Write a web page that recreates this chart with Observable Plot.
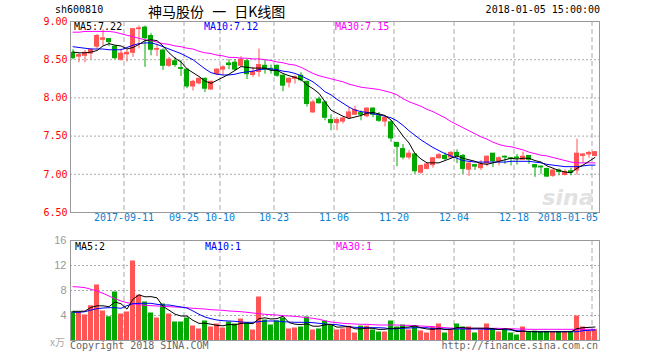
<!DOCTYPE html>
<html>
<head>
<meta charset="utf-8">
<script src="https://cdn.jsdelivr.net/npm/d3@7"></script>
<script src="https://cdn.jsdelivr.net/npm/@observablehq/plot@0.6"></script>
<style>
  html, body { margin: 0; padding: 0; background: #fff; }
  #wrap { position: relative; width: 660px; height: 360px; overflow: hidden; background: #fff; }
  .lbl { position: absolute; white-space: nowrap; line-height: 11px; height: 11px;
         font-family: "DejaVu Sans Mono", monospace; font-size: 10px; }
  .pane { position: absolute; left: 0; }
</style>
</head>
<body>
<div id="wrap">
  <div id="topPane" class="pane" style="top:0"></div>
  <div id="volPane" class="pane" style="top:232px"></div>
</div>
<script>
// ---------------- data ----------------
const openP  = [8.59,8.54,8.55,8.58,8.67,8.76,8.77,8.67,8.50,8.57,8.59,8.90,8.92,8.81,8.63,8.62,8.42,8.48,8.39,8.37,
                8.15,8.19,8.25,8.11,8.31,8.37,8.45,8.46,8.42,8.48,8.30,8.34,8.42,8.38,8.42,8.29,8.20,8.25,8.29,8.21,
                7.81,7.98,7.94,7.71,7.67,7.69,7.74,7.78,7.80,7.76,7.86,7.76,7.69,7.68,7.41,7.33,7.22,7.26,7.02,7.07,
                7.12,7.21,7.24,7.22,7.28,7.24,7.06,7.12,7.08,7.14,7.27,7.17,7.23,7.21,7.22,7.19,7.24,7.12,7.10,7.07,
                6.98,7.05,6.99,7.04,7.05,7.24,7.26,7.24];
const highP  = [8.63,8.58,8.62,8.64,8.83,8.89,8.77,8.68,8.64,8.63,8.91,8.94,8.94,8.84,8.70,8.64,8.53,8.53,8.49,8.37,
                8.23,8.26,8.26,8.22,8.38,8.42,8.50,8.50,8.54,8.50,8.40,8.64,8.49,8.43,8.43,8.30,8.26,8.29,8.33,8.22,
                7.97,8.01,7.96,7.78,7.74,7.75,7.87,7.89,7.83,7.87,7.87,7.81,7.75,7.70,7.42,7.39,7.31,7.27,7.12,7.15,
                7.22,7.27,7.28,7.30,7.32,7.26,7.15,7.13,7.18,7.24,7.27,7.23,7.24,7.22,7.26,7.29,7.24,7.13,7.11,7.08,
                7.06,7.07,7.06,7.08,7.46,7.27,7.30,7.30];
const lowP   = [8.50,8.46,8.46,8.50,8.64,8.68,8.67,8.50,8.48,8.47,8.53,8.64,8.40,8.55,8.54,8.36,8.40,8.40,8.28,8.12,
                8.09,8.17,8.07,8.10,8.29,8.29,8.37,8.35,8.40,8.24,8.27,8.27,8.31,8.31,8.27,8.08,8.13,8.18,8.21,7.88,
                7.80,7.92,7.70,7.57,7.57,7.66,7.72,7.77,7.70,7.74,7.74,7.68,7.62,7.42,7.10,7.19,7.19,7.00,7.00,7.06,
                7.08,7.20,7.18,7.21,7.14,7.00,6.97,7.05,7.05,7.10,7.09,7.11,7.13,7.11,7.12,7.18,7.13,6.96,7.00,6.96,
                6.96,6.98,6.98,6.98,6.99,7.14,7.21,7.23];
const closeP = [8.52,8.56,8.59,8.63,8.81,8.78,8.73,8.52,8.58,8.59,8.90,8.91,8.78,8.63,8.64,8.42,8.50,8.43,8.38,8.15,
                8.21,8.25,8.12,8.21,8.37,8.40,8.43,8.37,8.50,8.31,8.34,8.43,8.37,8.37,8.29,8.16,8.25,8.27,8.23,7.92,
                7.94,7.93,7.74,7.67,7.71,7.73,7.81,7.84,7.78,7.86,7.78,7.70,7.74,7.47,7.36,7.22,7.27,7.04,7.11,7.13,
                7.21,7.25,7.20,7.28,7.24,7.07,7.14,7.10,7.13,7.23,7.17,7.21,7.22,7.20,7.21,7.23,7.19,7.09,7.09,6.97,
                7.05,7.03,7.03,7.02,7.27,7.26,7.28,7.29];
// volume, in 万 (10k) lots
const volume = [4.60,4.45,4.08,5.55,8.88,4.72,3.80,7.76,4.24,4.56,12.72,7.25,6.16,4.40,3.60,5.84,4.24,2.96,2.96,3.60,
                2.32,1.84,3.12,2.16,2.64,2.00,2.96,2.64,3.44,2.80,1.68,6.96,3.28,2.48,3.12,3.60,1.84,2.00,2.16,3.76,
                1.68,1.84,3.12,2.37,1.68,1.84,2.27,1.20,2.30,2.30,1.68,1.36,1.36,3.12,2.16,2.48,1.68,2.32,1.52,1.20,
                2.16,2.64,1.20,1.68,2.64,2.16,2.16,1.20,1.68,2.64,1.84,1.36,1.84,1.20,0.88,2.16,1.40,1.50,1.35,1.45,
                1.30,1.40,1.35,1.45,3.92,2.16,1.52,1.74];
// moving-average lines as drawn on the reference
const ma5  = [8.60,8.59,8.59,8.60,8.62,8.68,8.71,8.69,8.68,8.64,8.66,8.70,8.75,8.76,8.75,8.68,8.59,8.52,8.47,8.38,
              8.33,8.28,8.22,8.19,8.23,8.27,8.31,8.36,8.41,8.40,8.39,8.39,8.39,8.36,8.36,8.32,8.29,8.27,8.24,8.17,
              8.12,8.06,7.95,7.84,7.80,7.76,7.73,7.75,7.77,7.80,7.81,7.79,7.77,7.71,7.61,7.50,7.41,7.27,7.20,7.15,
              7.15,7.15,7.18,7.21,7.24,7.21,7.19,7.17,7.14,7.13,7.15,7.17,7.19,7.21,7.20,7.21,7.21,7.18,7.16,7.11,
              7.08,7.05,7.03,7.02,7.08,7.12,7.17,7.22];
const ma10 = [8.67,8.66,8.65,8.64,8.64,8.64,8.63,8.63,8.63,8.66,8.69,8.71,8.72,8.72,8.70,8.67,8.64,8.61,8.58,8.54,
              8.50,8.44,8.38,8.33,8.31,8.30,8.30,8.31,8.33,8.34,8.35,8.37,8.38,8.38,8.37,8.35,8.34,8.32,8.29,8.25,
              8.21,8.15,8.08,8.04,7.98,7.93,7.88,7.84,7.82,7.81,7.79,7.78,7.76,7.74,7.70,7.64,7.57,7.51,7.45,7.40,
              7.35,7.31,7.27,7.24,7.21,7.18,7.17,7.16,7.16,7.16,7.16,7.16,7.16,7.17,7.17,7.17,7.17,7.16,7.15,7.13,
              7.12,7.11,7.10,7.10,7.10,7.11,7.12,7.12];
const ma30 = [8.86,8.86,8.87,8.87,8.87,8.87,8.87,8.86,8.84,8.82,8.80,8.78,8.76,8.75,8.73,8.71,8.70,8.68,8.67,8.65,
              8.64,8.61,8.59,8.58,8.56,8.55,8.53,8.53,8.52,8.52,8.51,8.51,8.50,8.49,8.47,8.46,8.44,8.43,8.40,8.36,
              8.32,8.29,8.27,8.25,8.23,8.21,8.18,8.16,8.14,8.13,8.12,8.11,8.09,8.07,8.04,7.99,7.95,7.92,7.89,7.85,
              7.82,7.78,7.74,7.69,7.65,7.61,7.57,7.53,7.49,7.46,7.42,7.39,7.37,7.36,7.34,7.32,7.29,7.27,7.25,7.24,
              7.22,7.20,7.18,7.16,7.15,7.15,7.15,7.15];
const vma5  = [4.67,4.67,4.70,5.30,5.55,5.55,5.41,6.15,5.88,5.02,6.62,7.31,6.99,7.02,6.83,5.46,4.85,4.21,3.92,3.92,
               3.22,2.74,2.77,2.61,2.42,2.35,2.58,2.48,2.74,2.77,2.70,3.50,3.63,3.44,3.50,3.89,2.86,2.61,2.54,2.67,
               2.29,2.29,2.51,2.55,2.14,2.17,2.26,1.87,1.86,1.98,1.95,1.77,1.80,1.96,1.94,2.10,2.16,2.35,2.03,1.84,
               1.78,1.97,1.74,1.78,2.06,2.06,1.97,1.97,1.97,1.97,1.90,1.74,1.87,1.78,1.42,1.49,1.45,1.40,1.38,1.40,
               1.40,1.38,1.39,1.39,1.90,2.05,2.10,2.16];
const vma10 = [4.51,4.51,4.61,4.88,5.09,5.20,5.25,5.25,5.15,5.57,5.89,5.95,5.95,5.95,5.79,5.68,5.68,5.52,5.36,5.20,
               4.72,4.19,3.76,3.49,3.28,3.17,3.12,3.07,2.96,2.91,2.91,3.01,3.12,3.12,3.12,3.01,2.96,2.91,2.91,2.91,
               2.85,2.75,2.64,2.59,2.53,2.37,2.21,2.11,2.05,2.05,2.05,2.05,2.00,1.84,1.89,1.95,2.00,2.05,2.05,2.05,
               1.89,1.84,1.84,1.84,1.84,1.84,1.84,1.84,1.84,1.79,1.79,1.79,1.73,1.68,1.57,1.52,1.41,1.41,1.41,1.41,
               1.41,1.41,1.41,1.41,1.41,1.57,1.63,1.68];
const vma30 = [8.61,8.56,8.45,8.19,7.92,7.55,7.12,6.69,6.32,6.05,5.89,5.73,5.63,5.57,5.52,5.47,5.41,5.36,5.31,5.25,
               5.15,5.09,5.04,4.93,4.88,4.83,4.72,4.67,4.61,4.51,4.40,4.29,4.19,4.13,4.08,3.97,3.92,3.87,3.76,3.65,
               3.55,3.39,3.17,2.96,2.85,2.75,2.69,2.64,2.59,2.59,2.53,2.48,2.48,2.48,2.48,2.43,2.43,2.37,2.32,2.27,
               2.21,2.11,2.05,2.00,1.95,1.95,1.95,1.95,1.95,1.95,1.95,1.95,1.89,1.89,1.84,1.84,1.79,1.79,1.79,1.79,
               1.79,1.79,1.79,1.79,1.79,1.79,1.79,1.79];
const dateLabels = ["2017-09-11","09-25","10-10","10-23","11-06","11-20","12-04","12-18","2018-01-05"];
const dateIndex  = [9,19,25,34,44,54,64,74,87];
const priceTicks = [9.00,8.50,8.00,7.50,7.00,6.50];
const volTicks   = [16,12,8,4];
const maPriceLabels = [["MA5:7.22","#000"],["MA10:7.12","#0000ff"],["MA30:7.15","#ff00ff"]];
const maVolLabels   = [["MA5:2","#000"],["MA10:1","#0000ff"],["MA30:1","#ff00ff"]];

// ---------------- drawing ----------------
const RED = "#ff5555", GREEN = "#00a800", GRID = "#aaaaaa";
const HW = 2.5 / 6;                       // half body width in index units
const xDomain = [-HW, (599 - 72.5) / 6];
const rows = openP.map((o, i) => ({i, o, h: highP[i], l: lowP[i], c: closeP[i], v: volume[i]}));
const ups = rows.filter(d => d.c >= d.o), downs = rows.filter(d => d.c < d.o);
const grid = dateIndex.map(d => d - 0.5);
const mono = "DejaVu Sans Mono, monospace";

const topChart = Plot.plot({
  width: 660, height: 232,
  marginLeft: 70, marginRight: 61, marginTop: 21, marginBottom: 20,
  x: {domain: xDomain, axis: null},
  y: {domain: [6.5, 9], axis: null},
  style: {fontFamily: mono, fontSize: "10px", background: "transparent", overflow: "visible"},
  marks: [
    Plot.ruleY([8.5, 8.0, 7.5, 7.0], {stroke: GRID, strokeDasharray: "2,2"}),
    Plot.ruleX(grid, {stroke: GRID, strokeDasharray: "5,3"}),
    Plot.text(["sina"], {frameAnchor: "bottom-right", dx: -6, dy: -8, fill: "#e2e2e2",
                         fontSize: 22, fontWeight: "bold", fontStyle: "italic", fontFamily: "DejaVu Sans"}),
    Plot.ruleX(ups,   {x: "i", y1: "l", y2: "h", stroke: RED}),
    Plot.ruleX(downs, {x: "i", y1: "l", y2: "h", stroke: GREEN}),
    Plot.rect(ups,   {x1: d => d.i - HW, x2: d => d.i + HW, y1: "o", y2: "c", fill: RED,   insetTop: -0.5, insetBottom: -0.5}),
    Plot.rect(downs, {x1: d => d.i - HW, x2: d => d.i + HW, y1: "o", y2: "c", fill: GREEN, insetTop: -0.5, insetBottom: -0.5}),
    Plot.lineY(ma30, {stroke: "#ff00ff", strokeWidth: 1}),
    Plot.lineY(ma10, {stroke: "#0000ff", strokeWidth: 1}),
    Plot.lineY(ma5,  {stroke: "#000000", strokeWidth: 1}),
    Plot.text(priceTicks, {x: xDomain[0], y: d => d, text: d => d.toFixed(2), textAnchor: "end", dx: -3, fill: "#ff0000"}),
    Plot.text(dateLabels.slice(0, -1), {x: (d, k) => grid[k], frameAnchor: "bottom", dy: 8, fill: "#0a7fd0"}),
    Plot.text(dateLabels.slice(-1), {x: grid.slice(-1), frameAnchor: "bottom", dy: 8, dx: 6, textAnchor: "end", fill: "#0a7fd0"}),
    Plot.frame({stroke: "#999999"})
  ]
});
document.getElementById("topPane").appendChild(topChart);

const volChart = Plot.plot({
  width: 660, height: 128,
  marginLeft: 70, marginRight: 61, marginTop: 8, marginBottom: 20,
  x: {domain: xDomain, axis: null},
  y: {domain: [0, 16], axis: null},
  style: {fontFamily: mono, fontSize: "10px", background: "transparent", overflow: "visible"},
  marks: [
    Plot.ruleY([12, 8, 4], {stroke: GRID, strokeDasharray: "2,2"}),
    Plot.ruleX(grid, {stroke: GRID, strokeDasharray: "5,3"}),
    Plot.rect(ups,   {x1: d => d.i - HW, x2: d => d.i + HW, y1: 0, y2: "v", fill: RED}),
    Plot.rect(downs, {x1: d => d.i - HW, x2: d => d.i + HW, y1: 0, y2: "v", fill: GREEN}),
    Plot.lineY(vma30, {stroke: "#ff00ff", strokeWidth: 1}),
    Plot.lineY(vma10, {stroke: "#0000ff", strokeWidth: 1}),
    Plot.lineY(vma5,  {stroke: "#000000", strokeWidth: 1}),
    Plot.text(volTicks, {x: xDomain[0], y: d => d, text: d => String(d), textAnchor: "end", dx: -4,
                         fill: "#999999", fontFamily: "Liberation Sans, Arial, sans-serif", fontSize: 11}),
    Plot.frame({stroke: "#999999"})
  ]
});
document.getElementById("volPane").appendChild(volChart);

// ---------------- header, legends and footer text ----------------
const wrap = document.getElementById("wrap");
function label(text, opts) {
  const s = document.createElement("div");
  s.className = "lbl";
  s.textContent = text;
  Object.assign(s.style, opts);
  wrap.appendChild(s);
  return s;
}
label("sh600810", {left: "55px", top: "4px", color: "#000"});
label("神马股份 一 日K线图", {left: "148px", top: "4px", height: "15px", lineHeight: "15px", wordSpacing: "5px",
      fontFamily: "'Noto Sans CJK SC', sans-serif", fontSize: "14px", color: "#000"});
label("2018-01-05 15:00:00", {right: "60px", top: "4px", color: "#000"});
const maX = [74, 204, 335];
maPriceLabels.forEach(([t, c], k) => label(t, {left: maX[k] + "px", top: "21px", color: c}));
maVolLabels.forEach(([t, c], k) => label(t, {left: (maX[k] + 1) + "px", top: "241px", color: c}));
label("x万", {left: "50px", top: "336px", color: "#aaaaaa", fontFamily: "'Noto Sans CJK SC', sans-serif", fontSize: "10px"});
label("Copyright 2018 SINA.COM", {left: "70px", top: "340px", color: "#666"});
label("http://finance.sina.com.cn", {right: "62px", top: "340px", color: "#666"});
</script>
</body>
</html>
